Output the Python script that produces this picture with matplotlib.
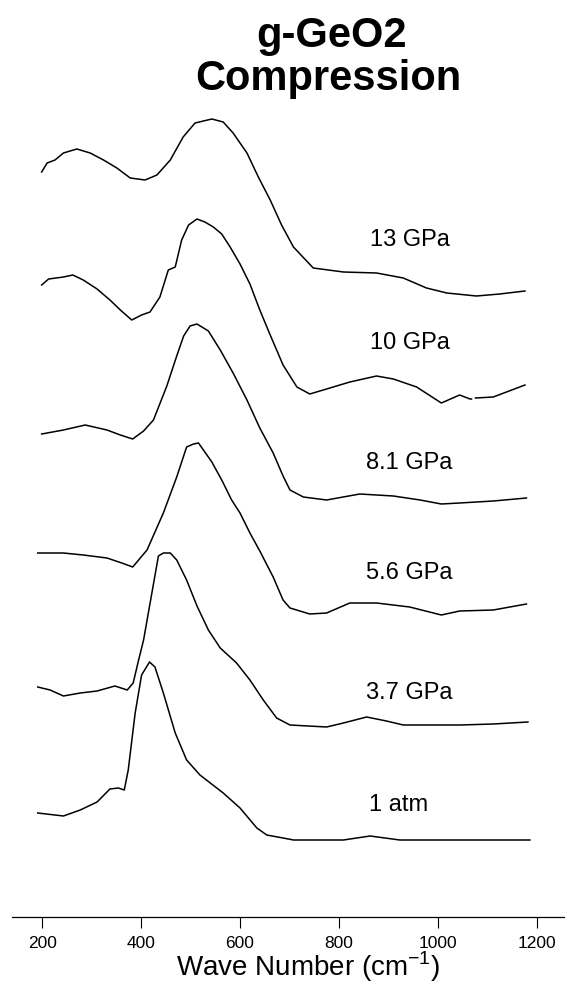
import numpy as np
import matplotlib
matplotlib.use("Agg")
import matplotlib.pyplot as plt

plt.rcParams['font.family'] = ['Liberation Sans', 'DejaVu Sans']
plt.rcParams['axes.unicode_minus'] = False

# Raman spectra of g-GeO2 under compression (wave number in cm-1, intensity in a.u.)
wn_13 = [199, 210, 226, 243, 270, 297, 324, 351, 378, 408, 432, 459, 485, 509, 543, 566,
         586, 614, 637, 661, 684, 708, 748, 809, 876, 930, 977, 1018, 1078, 1125, 1176]
int_13 = [124, 133, 136, 143, 147, 143, 136, 128, 118, 116, 121, 136, 159, 173, 177, 174,
          163, 143, 119, 96, 71, 49, 28, 24, 23, 18, 8, 3, 0, 2, 5]

wn_10 = [199, 213, 243, 262, 283, 311, 337, 358, 381, 401, 418, 438, 455, 469, 482, 496,
         513, 529, 546, 563, 580, 600, 620, 640, 661, 687, 715, 741, 775, 822, 876, 910,
         957, 1007, 1044, 1065, 1068, 1072, 1076, 1112, 1176]
int_10 = [118, 124, 126, 128, 123, 114, 103, 93, 83, 88, 91, 106, 133, 136, 163, 178,
          184, 181, 176, 169, 156, 139, 119, 93, 68, 38, 16, 9, 14, 21, 27, 24,
          16, 0, 8, 4, 4, np.nan, 5, 6, 18]

wn_81 = [199, 243, 287, 331, 358, 383, 405, 425, 452, 472, 486, 499, 513, 536, 560, 586,
         614, 640, 667, 687, 701, 728, 775, 842, 910, 964, 1007, 1044, 1112, 1179]
int_81 = [70, 74, 79, 74, 69, 65, 73, 84, 118, 148, 168, 178, 180, 173, 154, 131,
          104, 76, 51, 28, 14, 7, 4, 10, 8, 4, 0, 1, 3, 6]

wn_56 = [191, 243, 283, 331, 361, 383, 412, 445, 472, 492, 506, 516, 526, 543, 563, 583,
         600, 620, 640, 667, 687, 701, 741, 775, 822, 876, 943, 1007, 1044, 1112, 1179]
int_56 = [62, 62, 60, 57, 52, 48, 65, 102, 138, 168, 171, 172, 165, 153, 135, 115,
          102, 82, 64, 38, 15, 7, 1, 2, 12, 12, 8, 0, 4, 5, 11]

wn_37 = [191, 216, 243, 277, 311, 347, 372, 384, 395, 405, 435, 445, 459, 472, 492, 513,
         536, 560, 593, 620, 647, 674, 701, 775, 809, 856, 896, 930, 1044, 1112, 1182]
int_37 = [40, 37, 31, 34, 36, 41, 37, 44, 67, 87, 171, 174, 174, 167, 147, 121,
          97, 79, 64, 47, 27, 9, 2, 0, 4, 10, 6, 2, 2, 3, 5]

wn_1 = [191, 243, 277, 311, 337, 354, 366, 374, 388, 401, 417, 428, 445, 469, 492, 519,
        566, 600, 634, 654, 687, 708, 809, 863, 923, 1044, 1186]
int_1 = [27, 24, 30, 38, 51, 52, 50, 70, 127, 165, 178, 173, 147, 107, 80, 65,
         47, 32, 12, 5, 2, 0, 0, 4, 0, 0, 0]

labels = ['13 GPa', '10 GPa', '8.1 GPa', '5.6 GPa', '3.7 GPa', '1 atm']
offsets = [621, 514, 413, 302, 190, 77]
label_y = [677, 574, 454, 344, 224, 112]

spectra = [(wn_13, int_13), (wn_10, int_10), (wn_81, int_81),
           (wn_56, int_56), (wn_37, int_37), (wn_1, int_1)]

fig = plt.figure(figsize=(5.65, 9.92), dpi=100)
ax = fig.add_axes([12 / 565, 75 / 992, 553 / 565, 917 / 992])

for (wn, inten), off, lab, ly in zip(spectra, offsets, labels, label_y):
    ax.plot(wn, np.array(inten, dtype=float) + off, color='black', linewidth=1.1)
    ax.text(943 if lab != '1 atm' else 920, ly, lab, fontsize=17,
            ha='center', va='center')

ax.set_xlim(139, 1257)
ax.set_ylim(0, 917)
ax.set_xticks([200, 400, 600, 800, 1000, 1200])
ax.tick_params(axis='x', direction='out', length=8, width=0.8, pad=6, labelsize=12.5)
ax.set_yticks([])
for side in ['left', 'right', 'top']:
    ax.spines[side].set_visible(False)
ax.spines['bottom'].set_linewidth(0.9)

fig.text(331 / 565, 1 - 36 / 992, 'g-GeO2', fontsize=30, fontweight='bold',
         ha='center', va='center')
fig.text(328 / 565, 1 - 79 / 992, 'Compression', fontsize=30, fontweight='bold',
         ha='center', va='center')
fig.text(308 / 565, 1 - 967 / 992, r'Wave Number (cm$^{\mathregular{-1}}$)',
         fontsize=20, ha='center', va='center')

fig.savefig('out.png', dpi=100)
